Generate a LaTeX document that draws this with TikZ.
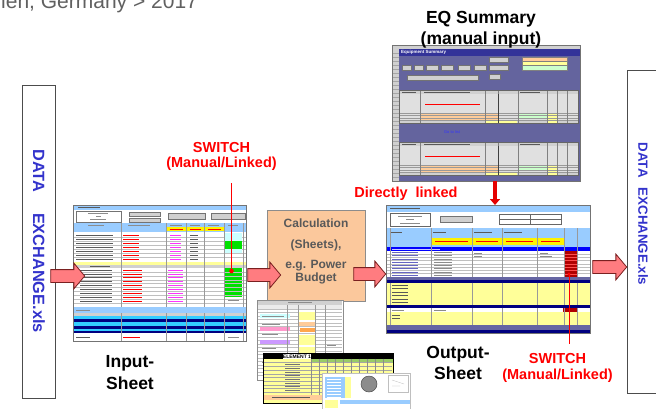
\documentclass[tikz,border=0pt]{standalone}
\usepackage{fontspec}
\setmainfont{Liberation Sans}
\usetikzlibrary{shapes.arrows,arrows.meta,calc}
\definecolor{titlegray}{HTML}{606060}
\definecolor{xblue}{HTML}{3333CC}
\definecolor{swred}{HTML}{FF0000}
\definecolor{calcfill}{HTML}{FBC89C}
\definecolor{calctext}{HTML}{595959}
\definecolor{arrfill}{HTML}{FF7C80}
\definecolor{arrdraw}{HTML}{7A2020}
\definecolor{lblue}{HTML}{99CCFF}
\definecolor{lyel}{HTML}{FFFF99}
\definecolor{navy}{HTML}{000080}
\definecolor{cyanx}{HTML}{33CCFF}
\definecolor{cyanl}{HTML}{CCFFFF}
\definecolor{slate}{HTML}{6666A3}
\definecolor{eqbg}{HTML}{64649E}
\definecolor{eqtitle}{HTML}{333399}
\definecolor{cellg}{HTML}{D0D0D0}
\definecolor{orangec}{HTML}{FFCC99}
\definecolor{greenc}{HTML}{00E000}
\definecolor{lgreen}{HTML}{CCFFCC}
\definecolor{darkred}{HTML}{B00000}
\definecolor{magx}{HTML}{FF33FF}
\definecolor{pinkc}{HTML}{FF99CC}
\definecolor{purpc}{HTML}{CC99FF}
\definecolor{hgreen}{HTML}{99CC66}
\tikzset{
  sheet/.style={draw=black!55, line width=0.8pt, fill=white, inner sep=0pt, outer sep=0pt},
  fatarrow/.style={single arrow, draw=arrdraw, fill=arrfill, line width=0.8pt,
    inner xsep=0pt, inner ysep=6pt, single arrow head extend=6.5pt, single arrow tip angle=100},
  lab/.style={font=\bfseries\fontsize{17.5}{21}\selectfont, inner sep=0pt},
  swlab/.style={font=\bfseries\fontsize{14.5}{17}\selectfont, text=swred, inner sep=0pt},
  dx/.style={font=\bfseries\fontsize{16.3}{19}\selectfont, text=xblue, rotate=-90, inner sep=0pt},
  ctext/.style={font=\bfseries\fontsize{12}{14}\selectfont, text=calctext, inner sep=0pt},
  stubk/.style={line width=0.8pt, black!65},
  stubg/.style={line width=0.7pt, black!45},
  stubr/.style={line width=0.8pt, red},
  stubm/.style={line width=0.8pt, magx},
  btn/.style={fill=cellg, draw=black!55, line width=0.3pt},
  rowline/.style={black!25, line width=0.25pt},
  colline/.style={black!40, line width=0.3pt},
  swline/.style={red, line width=1pt},
  reddown/.style={line width=3.5pt, draw=red!90!black, -{Triangle[length=6pt,width=10pt]}},
  databox/.style={draw=black!70, line width=0.8pt, fill=white, inner sep=0pt}
}
\begin{document}
\begin{tikzpicture}[x=1pt,y=-1pt]
\useasboundingbox (0,0) rectangle (656,408);
\fill[white] (0,0) rectangle (656,408);

% title fragment
\begin{scope}
\clip (0,0) rectangle (656,408);
\node[anchor=base west, inner sep=0pt, text=titlegray, font=\fontsize{21}{24}\selectfont] (ttl) at (1,8) {len, Germany > 2017};
\end{scope}

% data exchange boxes
\node[databox, minimum width=33pt, minimum height=313pt] (dl) at (38.5,241.5) {};
\node[dx] (dlt) at (39,241) {DATA\hspace{21pt}EXCHANGE.xls};
\node[databox, minimum width=40pt, minimum height=323pt, anchor=north west] (dr) at (627,70) {};
\node[dx, font=\bfseries\fontsize{13.3}{16}\selectfont] (drt) at (643,214) {DATA\hspace{10pt}EXCHANGE.xls};

% ================= INPUT SHEET =================
\node[sheet, minimum width=173pt, minimum height=136pt, anchor=north west] (ins) at (73,205) {};
\fill[lblue] (73,205) rectangle (246,210);
\draw[stubk] (78,207.5) -- (100,207.5);
\draw[black!55, line width=0.3pt] (76,211) rectangle (121,222);
\draw[stubg] (88,213.5)--(108,213.5) (96,216.5)--(101,216.5) (90,219.5)--(106,219.5);
\foreach \a/\b/\c/\d in {129/212/160/216.5, 129/218/160/222.5, 168/213/205/219, 211/213.5/245/219}
  \filldraw[btn] (\a,\b) rectangle (\c,\d);
\fill[lblue] (73,223) rectangle (246,232);
\draw[stubg] (88,225.5)--(104,225.5) (128,225.5)--(150,225.5) (170,225.5)--(182,225.5) (190,225.5)--(200,225.5) (208,225.5)--(219,225.5) (228,225.5)--(238,225.5);
\foreach \a/\b in {166.5/185.5,186.5/203.5,204.5/223.5} {
  \fill[yellow] (\a,227) rectangle (\b,231);
  \draw[stubr] ({\a+3},229)--({\b-3},229);
}
\foreach \i/\c in {0/cyanl,1/cyanl,2/greenc,3/greenc,4/cyanl,5/white,6/white} {
  \pgfmathsetmacro\yy{233+\i*4.1}
  \fill[\c] (225,\yy) rectangle (242,\yy+4.1);
  \draw[rowline] (73,\yy+4.1) -- (246,\yy+4.1);
  \draw[stubk] (76,\yy+2) -- (113,\yy+2);
  \draw[stubr] (123,\yy+2) -- (139,\yy+2);
  \draw[stubm] (170,\yy+2) -- (181,\yy+2);
  \draw[stubk] (190,\yy+2) -- (198,\yy+2);
}
\fill[lyel] (73,262) rectangle (246,264.5);
\fill[cellg] (73,264.5) rectangle (246,267.5);
\draw[stubk] (90,266)--(110,266);
\fill[greenc] (225,268) rectangle (242,297);
\foreach \i in {0,...,8} {
  \pgfmathsetmacro\yy{268+\i*3.9}
  \draw[rowline] (73,\yy+3.9)--(246,\yy+3.9);
  \draw[stubk] (80,\yy+2)--(112,\yy+2);
  \draw[stubr] (123,\yy+2)--(142,\yy+2);
  \draw[stubm] (168,\yy+2)--(183,\yy+2);
}
\draw[stubg] (228,300)--(239,300);
\fill[lblue] (73,307) rectangle (246,313);
\draw[stubg] (76,310)--(90,310);
\fill[cellg] (73,313) rectangle (246,316);
\foreach \a/\b/\c in {316/319/cyanx, 319/322/navy, 322/325.5/cyanx, 325.5/328.5/navy, 328.5/331/cyanx, 331/333/navy}
  \fill[\c] (73,\a) rectangle (246,\b);
\draw[stubk] (76,337)--(90,337);
\draw[stubr] (123,337)--(140,337);
\draw[stubg] (228,337)--(239,337);
\foreach \x in {121,166,186,204,224,243} {
  \draw[colline] (\x,223)--(\x,307);
  \draw[colline] (\x,313)--(\x,341);
}
\draw[black!55, line width=0.8pt] (ins.north west) rectangle (ins.south east);

% ================= EQ SUMMARY =================
\node[sheet, fill=eqbg, minimum width=188pt, minimum height=136pt, anchor=north west] (eqs) at (392,45) {};
\fill[cellg] (392,45) rectangle (580,49);
\fill[cellg] (392,49) rectangle (399,181);
\foreach \y in {53,57,...,181} \draw[black!35, line width=0.2pt] (392,\y)--(399,\y);
\fill[eqtitle] (399,49) rectangle (580,56);
\node[anchor=west, inner sep=0pt, text=white, font=\bfseries\fontsize{4.5}{5}\selectfont] (eqt) at (401,52.5) {Equipment Summary};
\foreach \a/\b in {402/411,414/423,426/438,441/453,458/470,474/486}
  \filldraw[btn] (\a,65) rectangle (\b,70);
\filldraw[btn] (407,75) rectangle (478,80);
\filldraw[btn] (489,57) rectangle (508,62);
\filldraw[btn] (489,65) rectangle (508,70);
\filldraw[btn] (489,74) rectangle (500,79);
\filldraw[fill=orangec, draw=black!50, line width=0.3pt] (522,57) rectangle (567,61);
\filldraw[fill=lyel, draw=black!50, line width=0.3pt] (522,61) rectangle (567,65.5);
\filldraw[fill=lgreen, draw=black!50, line width=0.3pt] (522,65.5) rectangle (567,70);
\foreach \dy in {0,52} {
\begin{scope}[shift={(0,\dy)}]
  \fill[black!12] (399,90) rectangle (578,123);
  \fill[cellg] (399,90) rectangle (578,94);
  \draw[stubk] (402,92)--(416,92) (424,92)--(470,92) (520,92)--(540,92);
  \draw[stubr] (425,104)--(480,104);
  \fill[orangec] (420,113) rectangle (498,120);
  \fill[lgreen] (518,113) rectangle (547,118);
  \fill[lyel] (547,113) rectangle (557,120);
  \fill[cellg] (399,120) rectangle (578,123);
  \fill[lyel] (485,120) rectangle (517,123);
  \fill[lyel] (547,120) rectangle (557,123);
  \foreach \y in {113,115.5,118,120} \draw[black!40, line width=0.2pt] (399,\y)--(578,\y);
  \foreach \x in {420,485,498,518,547,557,567} \draw[black!50, line width=0.3pt] (\x,90)--(\x,123);
  \draw[black!75, line width=0.5pt] (498,94)--(498,123);
  \draw[black!60, line width=0.4pt] (399,90) rectangle (578,123);
\end{scope}
}
\node[font=\fontsize{4}{5}\selectfont, text=blue!80!white, inner sep=0pt] (gtl) at (452,132) {Go to list};
\draw[black!55, line width=0.8pt] (eqs.north west) rectangle (eqs.south east);

% ================= OUTPUT SHEET =================
\node[sheet, minimum width=204pt, minimum height=128pt, anchor=north west] (outs) at (386,205) {};
\fill[lblue] (386,205) rectangle (590,212);
\draw[stubk] (390,208.5)--(420,208.5);
\draw[black!60, line width=0.3pt] (390,213) rectangle (430,226);
\draw[stubg] (398,216)--(422,216) (406,219.5)--(414,219.5) (400,223)--(420,223);
\filldraw[btn] (440,216) rectangle (472,222);
\draw[black!60, line width=0.3pt] (499,214) rectangle (561,224);
\draw[black!60, line width=0.3pt] (499,219)--(561,219) (530,214)--(530,224);
\fill[lblue] (386,228) rectangle (590,247);
\draw[stubk] (390,232)--(402,232) (433,232)--(446,232) (474,232)--(492,232) (504,232)--(522,232);
\fill[yellow] (431,238) rectangle (564,245);
\foreach \a/\b in {431/472,472/502,502/537,537/564} \draw[stubr] ({\a+4},241.5)--({\b-4},241.5);
\fill[blue] (386,247) rectangle (590,250.5);
\draw[line width=0.6pt, white!80!blue] (392,248.8)--(440,248.8);
\foreach \i in {0,...,7} {
  \pgfmathsetmacro\yy{250.5+\i*3.3}
  \draw[rowline] (386,\yy+3.3)--(590,\yy+3.3);
  \draw[line width=0.6pt, blue!60!black!60] (392,\yy+1.7)--(418,\yy+1.7);
  \draw[line width=0.6pt, black!45] (434,\yy+1.7)--(452,\yy+1.7);
}
\draw[line width=0.6pt, black!45] (474,253)--(482,253) (474,256)--(482,256) (540,253)--(548,253) (540,256)--(552,256);
\fill[darkred] (564,250.5) rectangle (577,277);
\foreach \i in {1,...,7} \draw[red!70, line width=0.2pt] (564,250.5+\i*3.3)--(577,250.5+\i*3.3);
\fill[slate] (386,277) rectangle (590,280);
\fill[navy] (386,280) rectangle (590,282.5);
\fill[lyel] (386,282.5) rectangle (590,305);
\foreach \i in {0,...,5} \draw[stubk] (392,285+\i*3.5)--(408,285+\i*3.5);
\fill[navy] (386,305) rectangle (590,307.5);
\fill[white] (386,307.5) rectangle (590,312);
\fill[darkred] (563,308) rectangle (577,311.5);
\draw[line width=0.6pt, black!45] (392,309.8)--(404,309.8) (434,309.8)--(446,309.8);
\fill[lyel] (386,312) rectangle (590,325);
\draw[stubk] (392,315)--(400,315) (392,318.5)--(400,318.5);
\fill[slate] (386,325) rectangle (590,330);
\fill[navy] (386,330) rectangle (590,333);
\foreach \x in {390,431,472,502,537,564,577} {
  \draw[colline] (\x,228)--(\x,277);
  \draw[colline] (\x,282.5)--(\x,305);
  \draw[colline] (\x,307.5)--(\x,325);
}
\draw[black!55, line width=0.8pt] (outs.north west) rectangle (outs.south east);

% ================= CALCULATION =================
\node[draw=black!45, line width=0.8pt, fill=calcfill, minimum width=98pt, minimum height=91pt, anchor=north west, inner sep=0pt] (calc) at (267,210) {};
\node[ctext, anchor=base] (c1) at (316,227.5) {Calculation};
\node[ctext, anchor=base] (c2) at (316,248) {(Sheets),};
\node[ctext, anchor=base] (c3) at (316,268) {e.g. Power};
\node[ctext, anchor=base] (c4) at (316,281.5) {Budget};

% small screenshot 1
\node[sheet, draw=black!45, line width=1pt, minimum width=86pt, minimum height=80pt, anchor=north west] (s1) at (257,300) {};
\fill[cellg] (258,300.5) rectangle (342,305);
\draw[stubg] (288,302.7)--(312,302.7);
\fill[black!8] (258,305) rectangle (342,309);
\foreach \i in {0,...,19} \draw[rowline] (258,309+\i*3.5)--(342,309+\i*3.5);
\fill[cyanl] (260,314) rectangle (290,318);
\fill[lyel] (298,312) rectangle (315,320);
\fill[orangec] (298,322) rectangle (315,326);
\fill[pinkc] (260,327) rectangle (290,330.5);
\fill[orange!70] (300,328) rectangle (315,332);
\fill[lyel] (298,335) rectangle (315,345);
\fill[purpc] (260,340) rectangle (290,343.5);
\fill[lyel] (298,347) rectangle (315,353);
\fill[lyel] (298,360) rectangle (315,370);
\draw[stubg] (262,316)--(284,316) (262,324.5)--(280,324.5) (262,334)--(278,334) (262,348)--(276,348) (262,362)--(274,362) (327,345)--(336,345);
\foreach \x in {287,298,315,325} \draw[colline] (\x,305)--(\x,378);
\draw[black!45, line width=1pt] (s1.north west) rectangle (s1.south east);

% small screenshot 2
\node[sheet, draw=black, line width=1pt, fill=lyel, minimum width=130pt, minimum height=50pt, anchor=north west] (s2) at (263,353) {};
\fill[black] (263.5,353.5) rectangle (392.5,358.5);
\fill[white] (283,354) rectangle (311,358.5);
\node[font=\bfseries\fontsize{5}{6}\selectfont, inner sep=0pt] (el1) at (297,356.3) {ELEMENT 1};
\fill[hgreen] (311,358.5) rectangle (392.5,362.5);
\foreach \i in {0,...,8} \draw[black!35, line width=0.2pt] (264,362.5+\i*3.7)--(392,362.5+\i*3.7);
\foreach \x in {311,319,327,335,343,351,359,367,375,383} \draw[black!45, line width=0.25pt] (\x,358.5)--(\x,395);
\foreach \i in {0,...,7} \draw[line width=0.6pt, black!55] (285,364.5+\i*3.7)--(300,364.5+\i*3.7);
\fill[orangec] (264,395) rectangle (330,400);
\draw[stubk] (272,397.5)--(310,397.5);
\draw[black, line width=1pt] (s2.north west) rectangle (s2.south east);

% small screenshot 3
\node[sheet, draw=black!25, line width=0.5pt, minimum width=88pt, minimum height=36pt, anchor=north west] (s3) at (322,373) {};
\fill[lblue] (325,377) rectangle (345,398);
\fill[lyel] (345,377) rectangle (351,398);
\foreach \i in {0,...,6} \draw[white, line width=0.5pt] (327,379+\i*3)--(341,379+\i*3);
\filldraw[fill=black!45, draw=black!70, line width=0.5pt] (369,384) circle (8pt);
\draw[black!25, line width=0.3pt] (388,375) rectangle (408,392);
\draw[black!30, line width=0.3pt] (392,380)--(404,384) (392,386)--(400,386);
\fill[lblue] (340,400) rectangle (410,404);
\fill[lyel] (325,400) rectangle (338,408);
\draw[black!25, line width=0.5pt] (s3.north west) rectangle (s3.south east);

% ================= LABELS =================
\node[lab, anchor=base] (eq1) at (481,23) {EQ Summary};
\node[lab, anchor=base] (eq2) at (481,44) {(manual input)};
\node[swlab, anchor=base] (sw1a) at (221.5,152) {SWITCH};
\node[swlab, anchor=base] (sw1b) at (221.5,167.5) {(Manual/Linked)};
\node[swlab, anchor=base] (dlk) at (406,197.5) {Directly\ \ linked};
\node[swlab, anchor=base] (sw2a) at (557.5,363.5) {SWITCH};
\node[swlab, anchor=base] (sw2b) at (557.5,379) {(Manual/Linked)};
\node[lab, anchor=base] (in1) at (130,367) {Input-};
\node[lab, anchor=base] (in2) at (130,389) {Sheet};
\node[lab, anchor=base] (ou1) at (458,358) {Output-};
\node[lab, anchor=base] (ou2) at (458,379) {Sheet};

% ================= CONNECTORS =================
\coordinate (sw1top) at (231.5,183);
\coordinate (sw1end) at (231.5,271);
\draw[swline] (sw1top) -- (sw1end);
\fill[red] (sw1end) circle (2.3pt);
\coordinate (sw2top) at (569,274);
\coordinate (sw2end) at (569,344);
\draw[swline] (sw2top) -- (sw2end);
\fill[red] (sw2top) circle (1.6pt);
\coordinate (dlx) at (495,0);
\draw[reddown] (eqs.south -| dlx) -- (outs.north -| dlx);

\node[fatarrow, minimum height=34pt] (a1) at (65,276) {};
\node[fatarrow, minimum height=33pt] (a2) at (261.5,275) {};
\node[fatarrow, minimum height=32pt] (a3) at (367,274) {};
\node[fatarrow, minimum height=34pt] (a4) at (607,267) {};
\end{tikzpicture}
\end{document}
